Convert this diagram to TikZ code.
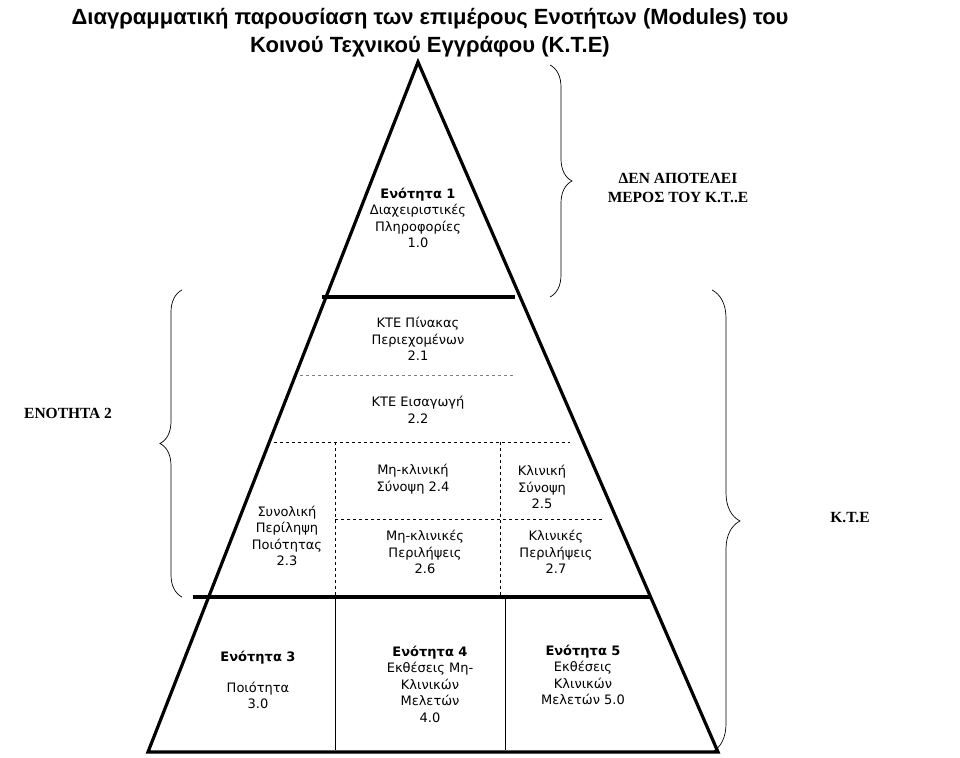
\documentclass[tikz,border=0pt]{standalone}
\usepackage{fontspec}
\setmainfont{Liberation Serif}
\newfontfamily\arialf{Liberation Sans}
\newfontfamily\bodyf{DejaVu Sans}
\usetikzlibrary{decorations.pathreplacing}
\begin{document}
\begin{tikzpicture}[x=1pt,y=-1pt,
  thick line/.style={line width=3.2pt},
  dash line/.style={dashed,line width=0.8pt},
  body/.style={font=\bodyf\fontsize{13}{16.5}\selectfont,align=center},
  lab/.style={font=\bfseries\fontsize{15.5}{19}\selectfont,align=center},
  bracestyle/.style={decorate,decoration={brace,amplitude=22pt},line width=0.7pt}]
\useasboundingbox (0,0) rectangle (960,757);
\coordinate (apex) at (418,62);
\coordinate (bl) at (148,752);
\coordinate (br) at (718,752);
\draw[thick line,line join=miter] (apex) -- (br) -- (bl) -- cycle;
\draw[thick line] (322,297) -- (515,297);
\draw[thick line] (193,597) -- (650,597);
\draw[dash line,gray] (300,375) -- (513,375);
\draw[dash line] (268,442) -- (570,442);
\draw[dash line] (335,519) -- (602,519);
\draw[dash line] (335,442) -- (335,597);
\draw[dash line] (500,442) -- (500,597);
\draw[line width=0.6pt] (335,597) -- (335,750);
\draw[line width=0.6pt] (505,597) -- (505,750);
% texts
\node[font=\arialf\bfseries\fontsize{22}{28}\selectfont,align=center] (title) at (430,33)
 {Διαγραμματική παρουσίαση των επιμέρους Ενοτήτων (Modules) του\\Κοινού Τεχνικού Εγγράφου (Κ.Τ.Ε)};
\node[body] (m1) at (418,218) {\textbf{Ενότητα 1}\\Διαχειριστικές\\Πληροφορίες\\1.0};
\node[body] (m21) at (418,339) {ΚΤΕ Πίνακας\\Περιεχομένων\\2.1};
\node[body] (m22) at (418,410) {ΚΤΕ Εισαγωγή\\2.2};
\node[body] (m23) at (287,536) {Συνολική\\Περίληψη\\Ποιότητας\\2.3};
\node[body] (m24) at (413,479) {Μη-κλινική\\Σύνοψη 2.4};
\node[body] (m26) at (425,552) {Μη-κλινικές\\Περιλήψεις\\2.6};
\node[body] (m25) at (542,487) {Κλινική\\Σύνοψη\\2.5};
\node[body] (m27) at (556,552) {Κλινικές\\Περιλήψεις\\2.7};
\node[body] (m3) at (258,680) {\textbf{Ενότητα 3}\\[14pt]Ποιότητα\\3.0};
\node[body] (m4) at (430,684) {\textbf{Ενότητα 4}\\Εκθέσεις Μη-\\Κλινικών\\Μελετών\\4.0};
\node[body] (m5) at (583,675) {\textbf{Ενότητα 5}\\Εκθέσεις\\Κλινικών\\Μελετών 5.0};
\node[lab] (den) at (678,188) {ΔΕΝ ΑΠΟΤΕΛΕΙ\\ΜΕΡΟΣ ΤΟΥ Κ.Τ..Ε};
\node[lab] (en2) at (68,413) {ΕΝΟΤΗΤΑ 2};
\node[lab] (kte) at (850,518) {Κ.Τ.Ε};
% braces
\coordinate (b1a) at (550,65);
\coordinate (b1b) at (550,297);
\draw[bracestyle] (b1a) -- (b1b);
\coordinate (b2a) at (182,290);
\coordinate (b2b) at (182,597);
\draw[bracestyle] (b2b) -- (b2a);
\coordinate (b3a) at (712,290);
\coordinate (b3b) at (712,752);
\draw[decorate,decoration={brace,amplitude=28pt},line width=0.7pt] (b3a) -- (b3b);
\end{tikzpicture}
\end{document}
